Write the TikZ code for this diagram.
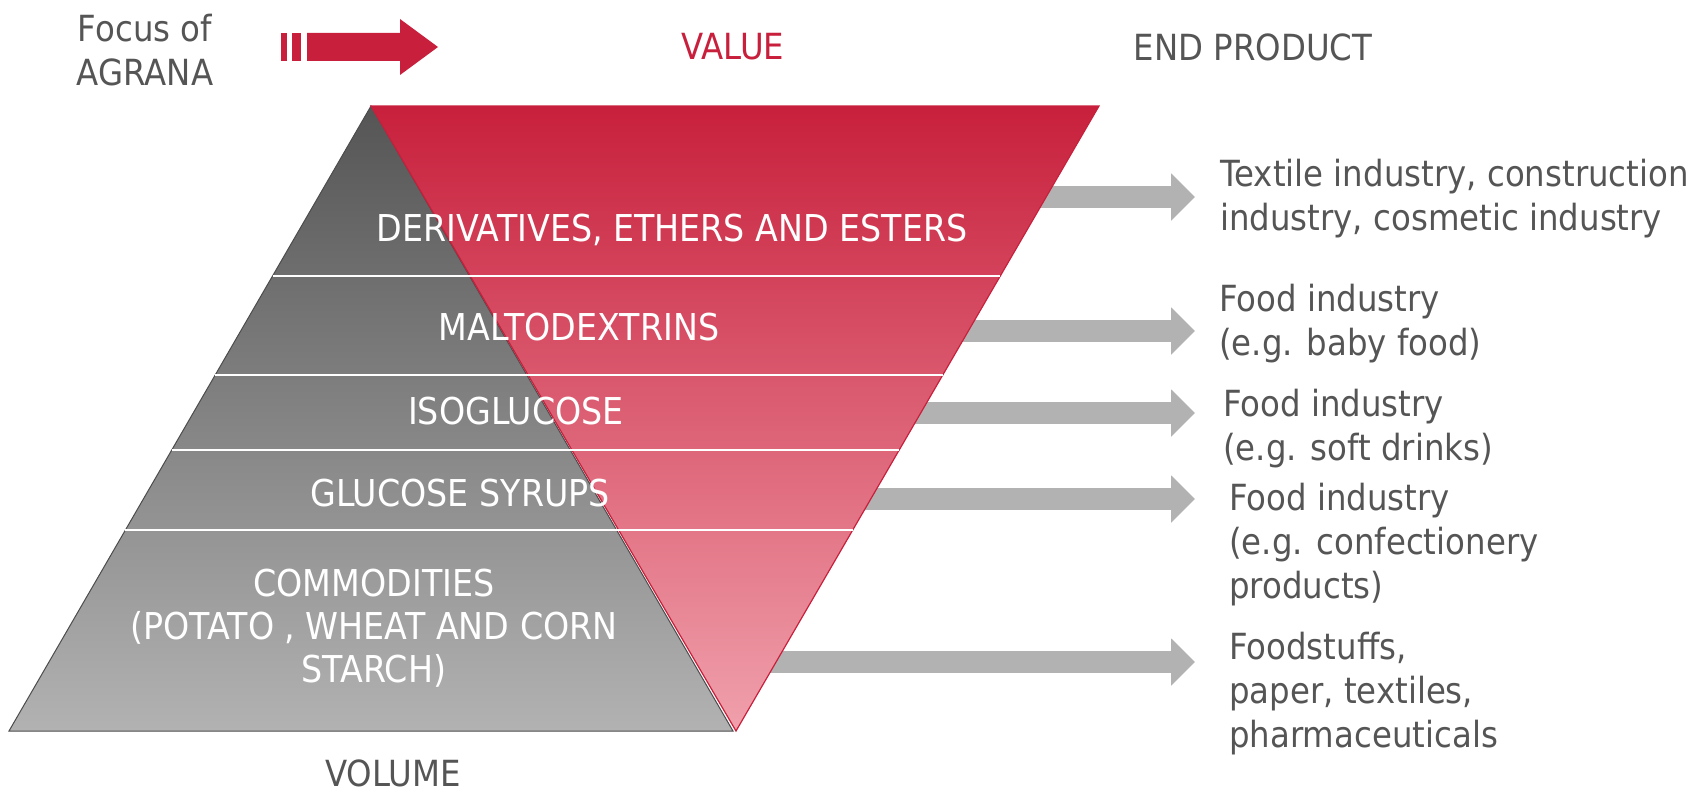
\documentclass[tikz,border=0pt]{standalone}
\usepackage{fontspec}
\setmainfont[FakeStretch=0.9]{DejaVu Sans}
\usetikzlibrary{calc,arrows.meta}
\definecolor{agred}{HTML}{C8203C}
\definecolor{agpink}{HTML}{F0A0AC}
\definecolor{gdark}{HTML}{555555}
\definecolor{glight}{HTML}{B2B2B2}
\definecolor{txtgray}{HTML}{555555}
\definecolor{arrgray}{HTML}{B2B2B2}
\begin{document}
\begin{tikzpicture}[x=1pt,y=-1pt,
  lbl/.style={font=\fontsize{36}{44}\selectfont, text=txtgray, inner sep=0pt, align=left, anchor=west},
  ptxt/.style={font=\fontsize{37}{43}\selectfont, text=white, inner sep=0pt, align=center},
  toptxt/.style={font=\fontsize{36}{44}\selectfont, text=txtgray, inner sep=0pt, align=center},
  gband/.style={white, line width=1.5pt},
  garrow/.style={arrgray, line width=22pt, -{Triangle[length=24pt,width=46pt]}},
]
\useasboundingbox (0,0) rectangle (1698,792);
% key points
\coordinate (apex) at (371,106);
\coordinate (bl) at (9,731);
\coordinate (br) at (733,731);
\coordinate (rtr) at (1099,106);
\coordinate (tip) at (736,731);
% gray arrows (behind the red triangle)
\coordinate (s1) at (736,197); \coordinate (e1) at (1195,197);
\coordinate (s2) at (736,331); \coordinate (e2) at (1195,331);
\coordinate (s3) at (736,413); \coordinate (e3) at (1195,413);
\coordinate (s4) at (736,499); \coordinate (e4) at (1195,499);
\coordinate (s5) at (736,662); \coordinate (e5) at (1195,662);
\foreach \i in {1,...,5} \draw[garrow] (s\i) -- (e\i);
% gray pyramid
\path[top color=gdark, bottom color=glight, draw=gray!60!black, line width=1pt]
  (apex) -- (bl) -- (br) -- cycle;
% red inverted triangle
\path[top color=agred, bottom color=agpink, draw=agred, line width=1.2pt]
  (apex) -- (rtr) -- (tip) -- cycle;
% divider lines
\foreach \t in {0.272,0.4304,0.5504,0.6784}
  \draw[gband] ($(apex)!\t!(bl)$) -- ($(rtr)!\t!(tip)$);
% pyramid texts
\node[ptxt] (t1) at (672,230) {DERIVATIVES, ETHERS AND ESTERS};
\node[ptxt] (t2) at (579,327) {MALTODEXTRINS};
\node[ptxt] (t3) at (516,411) {ISOGLUCOSE};
\node[ptxt] (t4) at (460,493) {GLUCOSE SYRUPS};
\node[ptxt] (t5) at (374,628) {COMMODITIES\\(POTATO , WHEAT AND CORN\\STARCH)};
% right labels
\node[lbl] (l1) at (1220,199) {Textile industry, construction\\industry, cosmetic industry};
\node[lbl] (l2) at (1219,324) {Food industry\\(e.g. baby food)};
\node[lbl] (l3) at (1223,429) {Food industry\\(e.g. soft drinks)};
\node[lbl] (l4) at (1229,545) {Food industry\\(e.g. confectionery\\products)};
\node[lbl] (l5) at (1229,694) {Foodstuffs,\\paper, textiles,\\pharmaceuticals};
% top labels
\node[toptxt] (focus) at (145,50) {Focus of\\AGRANA};
\node[toptxt, text=agred] (value) at (733,47) {VALUE};
\node[toptxt] (endp) at (1253,47) {END PRODUCT};
\node[toptxt] (vol) at (393,773) {VOLUME};
% red arrow
\fill[agred] (281,33) rectangle (287,61);
\fill[agred] (292,33) rectangle (301,61);
\fill[agred] (307,33) -- (400,33) -- (400,19) -- (438,47) -- (400,75) -- (400,61) -- (307,61) -- cycle;
\end{tikzpicture}
\end{document}
